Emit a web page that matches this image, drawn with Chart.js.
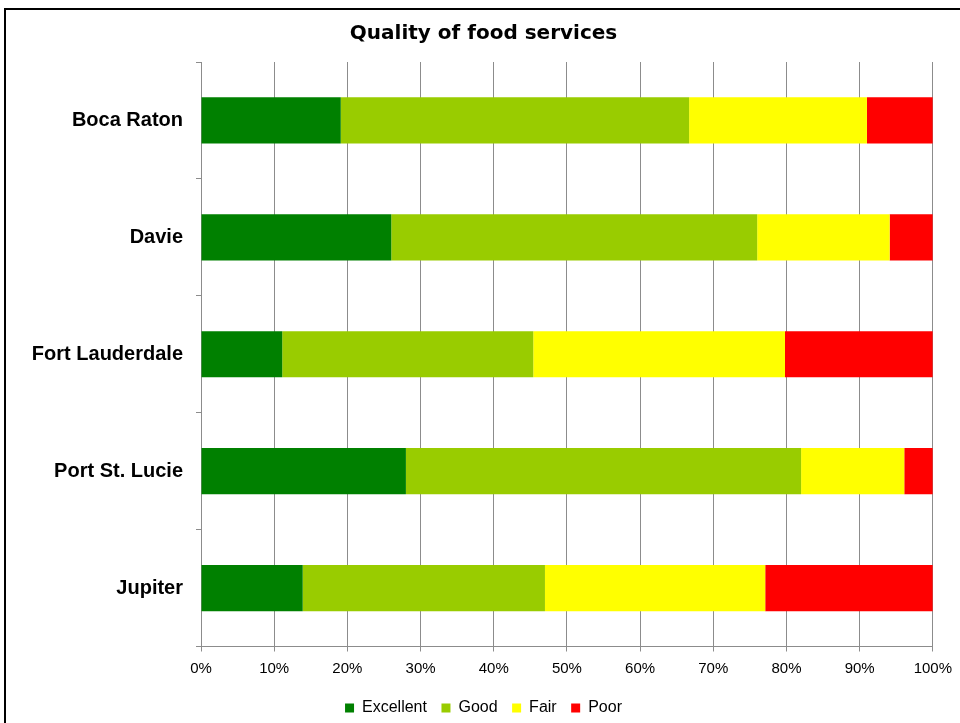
<!DOCTYPE html>
<html>
<head>
<meta charset="utf-8">
<title>Quality of food services</title>
<script src="https://cdn.jsdelivr.net/npm/chart.js@4/dist/chart.umd.min.js"></script>
<style>
    html, body { margin: 0; padding: 0; background: #fff; overflow: hidden; }
    #frame {
        position: absolute; left: 4px; top: 8px;
        width: 980px; height: 740px;
        border: 2px solid #000;
        box-sizing: border-box;
    }
    #wrap { position: absolute; left: 0; top: 0; width: 960px; height: 726px; }
</style>
</head>
<body>
<div id="frame"></div>
<div id="wrap"><canvas id="chart" width="960" height="726"></canvas></div>
<script>
    'use strict';

    const campuses = ['Boca Raton', 'Davie', 'Fort Lauderdale', 'Port St. Lucie', 'Jupiter'];
    const excellent = [19.1, 26.0, 11.1, 28.0, 13.9];
    const good = [47.6, 50.0, 34.3, 54.0, 33.1];
    const fair = [24.3, 18.1, 34.4, 14.1, 30.1];
    const poor = [9.0, 5.9, 20.2, 3.9, 22.9];

    const seriesNames = ['Excellent', 'Good', 'Fair', 'Poor'];
    const seriesColors = ['#008000', '#99CC00', '#FFFF00', '#FF0000'];
    const seriesValues = [excellent, good, fair, poor];

    const arial = '"Liberation Sans", Arial, sans-serif';
    const wide = '"DejaVu Sans", "Liberation Sans", sans-serif';
    const gridColor = '#8c8c8c';

    const datasets = seriesNames.map((name, i) => ({
        label: name,
        data: seriesValues[i],
        backgroundColor: seriesColors[i],
        borderWidth: 0,
        barPercentage: 0.79,
        categoryPercentage: 0.5
    }));

    new Chart(document.getElementById('chart').getContext('2d'), {
        type: 'bar',
        data: { labels: campuses, datasets: datasets },
        options: {
            indexAxis: 'y',
            responsive: false,
            animation: false,
            layout: { padding: { top: 8, left: 24, right: 17, bottom: 0 } },
            scales: {
                x: {
                    stacked: true,
                    min: 0,
                    max: 100,
                    ticks: {
                        stepSize: 10,
                        color: '#000',
                        font: { family: arial, size: 15 },
                        padding: 8,
                        callback: v => v + '%'
                    },
                    grid: { color: gridColor, tickLength: 5 },
                    border: { color: gridColor }
                },
                y: {
                    stacked: true,
                    afterFit: scale => { scale.width = 177; },
                    ticks: {
                        color: '#000',
                        font: { family: arial, size: 20, weight: 'bold' },
                        padding: 13
                    },
                    grid: { drawOnChartArea: false, color: gridColor, tickLength: 5 },
                    border: { color: gridColor }
                }
            },
            plugins: {
                title: {
                    display: true,
                    text: 'Quality of food services',
                    color: '#000',
                    font: { family: wide, size: 20, weight: 'bold' },
                    padding: { top: 14, bottom: 16 }
                },
                legend: {
                    position: 'bottom',
                    labels: {
                        color: '#000',
                        font: { family: arial, size: 16 },
                        boxWidth: 9,
                        boxHeight: 9,
                        padding: 14.5
                    }
                },
                tooltip: { enabled: false }
            }
        }
    });
</script>
</body>
</html>
